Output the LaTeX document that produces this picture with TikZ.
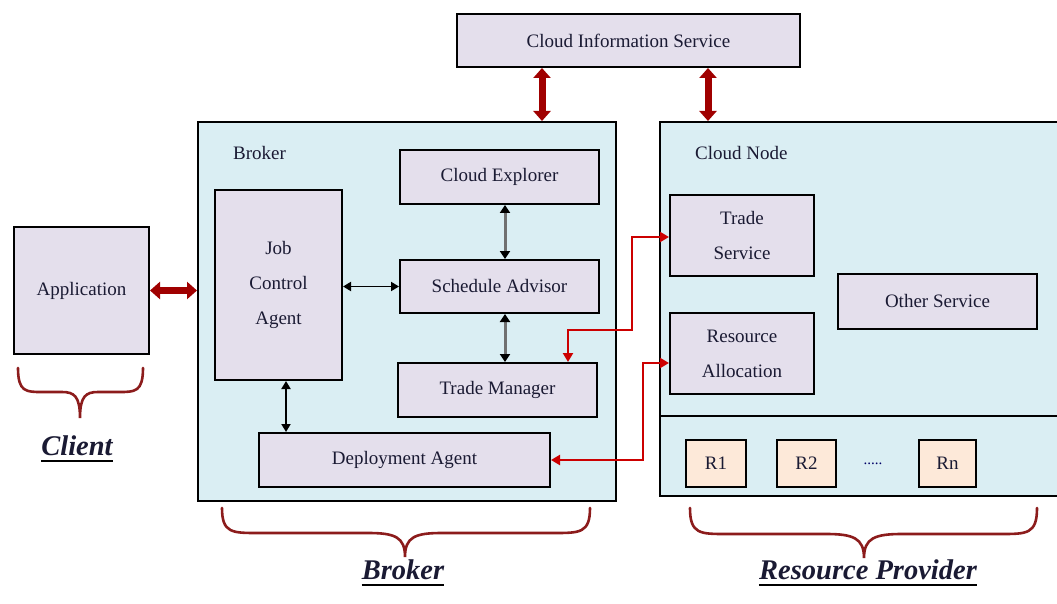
\documentclass[tikz,border=0pt]{standalone}
\usepackage{fontspec}
\setmainfont{Liberation Serif}
\usetikzlibrary{arrows.meta,calc}
\definecolor{lav}{HTML}{E4DFEC}
\definecolor{lblue}{HTML}{DAEEF3}
\definecolor{peach}{HTML}{FDE9D9}
\definecolor{dred}{HTML}{A00000}
\definecolor{bracered}{HTML}{8C1C1C}
\definecolor{lred}{HTML}{CC0000}
\definecolor{textc}{HTML}{1A1A33}
\definecolor{grayline}{HTML}{707070}
\begin{document}
\begin{tikzpicture}[x=1pt,y=-1pt,
  box/.style={draw=black, line width=2pt, fill=lav, text=textc,
    font=\fontsize{19}{35}\selectfont, inner sep=0pt, align=center},
  cont/.style={draw=black, line width=2pt, fill=lblue, inner sep=0pt},
  rbox/.style={box, fill=peach},
  lbl/.style={text=textc, font=\fontsize{19}{23}\selectfont, inner sep=0pt},
  biglbl/.style={text=textc, font=\fontsize{28.5}{32}\selectfont\bfseries\itshape, inner sep=0pt},
  fatarrow/.style={draw=dred, line width=7pt,
    {Triangle[length=10pt,width=17pt]}-{Triangle[length=10pt,width=17pt]}},
  thinarrow/.style={draw=black, line width=1.8pt,
    {Triangle[length=8pt,width=9pt]}-{Triangle[length=8pt,width=9pt]}},
  grayarrow/.style={draw=grayline, line width=3pt,
    {Triangle[length=8pt,width=10pt,fill=black,color=black]}-{Triangle[length=8pt,width=10pt,fill=black,color=black]}},
  redarrow/.style={draw=lred, line width=2.2pt,
    {Triangle[length=9pt,width=10pt]}-{Triangle[length=9pt,width=10pt]}},
  bracestyle/.style={draw=bracered, line width=2.6pt, line cap=round}
]
\useasboundingbox (0,0) rectangle (1057,604);

% containers
\node[cont, minimum width=418pt, minimum height=379pt] (brokerbox) at (407,311.5) {};
\node[cont, minimum width=410pt, minimum height=374pt] (nodebox) at (865,309) {};
\coordinate (divL) at (660,416);
\coordinate (divR) at (1070,416);
\draw[line width=2pt] (divL) -- (divR);

\node[lbl, anchor=west] (brokerlbl) at (233,153) {Broker};
\node[lbl, anchor=west] (nodelbl) at (695,153) {Cloud Node};

% boxes
\node[box, minimum width=343pt, minimum height=53pt] (cis) at (628.5,40.5) {Cloud Information Service};
\node[box, minimum width=135pt, minimum height=127pt] (app) at (81.5,290.5) {Application};
\node[box, minimum width=127pt, minimum height=190pt] (jca) at (278.5,285) {Job\\Control\\Agent};
\node[box, minimum width=199pt, minimum height=54pt] (ce) at (499.5,177) {Cloud Explorer};
\node[box, minimum width=199pt, minimum height=53pt] (sa) at (499.5,286.5) {Schedule Advisor};
\node[box, minimum width=199pt, minimum height=54pt] (tm) at (497.5,390) {Trade Manager};
\node[box, minimum width=291pt, minimum height=54pt] (da) at (404.5,460) {Deployment Agent};
\node[box, minimum width=144pt, minimum height=81pt] (ts) at (742,235.5) {Trade\\Service};
\node[box, minimum width=144pt, minimum height=81pt] (ra) at (742,353.5) {Resource\\Allocation};
\node[box, minimum width=199pt, minimum height=55pt] (os) at (937.5,301.5) {Other Service};
\node[rbox, minimum width=60pt, minimum height=47pt] (r1) at (716,463.5) {R1};
\node[rbox, minimum width=59pt, minimum height=47pt] (r2) at (806.5,463.5) {R2};
\node[rbox, minimum width=57pt, minimum height=47pt] (rn) at (947.5,463.5) {Rn};
\node[lbl, font=\fontsize{15}{18}\selectfont, text=blue!40!black] (dots) at (873,464) {.....};

% fat arrows
\draw[fatarrow] ([xshift=-86.5pt]cis.south) -- ([xshift=135pt]brokerbox.north);
\draw[fatarrow] ([xshift=79.5pt]cis.south) -- ([xshift=-157pt]nodebox.north);
\draw[fatarrow] (app.east) -- (app.east -| brokerbox.west);

% internal connectors
\draw[thinarrow] (sa.west -| jca.east) -- (sa.west);
\draw[grayarrow] ([xshift=5.5pt]ce.south) -- ([xshift=5.5pt]ce.south |- sa.north);
\draw[grayarrow] ([xshift=5.5pt]sa.south) -- ([xshift=5.5pt]sa.south |- tm.north);
\draw[thinarrow] ([xshift=7.5pt]jca.south) -- ([xshift=7.5pt]jca.south |- da.north);

% red connectors
\coordinate (bend1) at (632,330);
\coordinate (bend2) at (643,460);
\draw[redarrow] ([xshift=70.5pt]tm.north) |- (bend1) |- ([yshift=-1.5pt]ts.west);
\draw[redarrow] (da.east) -- (bend2) |- ([yshift=-9.5pt]ra.west);

% braces
\draw[bracestyle] (18,368) .. controls (18,392) and (26,392) .. (42,392)
  -- (62,392) .. controls (74,392) and (80,396) .. (80,418)
  .. controls (80,396) and (86,392) .. (98,392)
  -- (119,392) .. controls (135,392) and (143,392) .. (143,368);
\draw[bracestyle] (222,508) .. controls (222,533) and (232,533) .. (258,533)
  -- (368,533) .. controls (395,533) and (405,537) .. (405,557)
  .. controls (405,537) and (415,533) .. (442,533)
  -- (554,533) .. controls (580,533) and (590,533) .. (590,508);
\draw[bracestyle] (690,508) .. controls (690,534) and (700,534) .. (726,534)
  -- (826,534) .. controls (853,534) and (864,538) .. (864,558)
  .. controls (864,538) and (875,534) .. (902,534)
  -- (1001,534) .. controls (1027,534) and (1037,534) .. (1037,508);

% big labels
\node[biglbl] (clientlbl) at (77,446) {Client};
\node[biglbl] (brokerbig) at (403,570) {Broker};
\node[biglbl] (rplbl) at (868,570) {Resource Provider};
\draw[line width=2pt] ([yshift=-5pt]clientlbl.base west) -- ([yshift=-5pt]clientlbl.base east);
\draw[line width=2pt] ([yshift=-5pt]brokerbig.base west) -- ([yshift=-5pt]brokerbig.base east);
\draw[line width=2pt] ([yshift=-5pt]rplbl.base west) -- ([yshift=-5pt]rplbl.base east);
\end{tikzpicture}
\end{document}
